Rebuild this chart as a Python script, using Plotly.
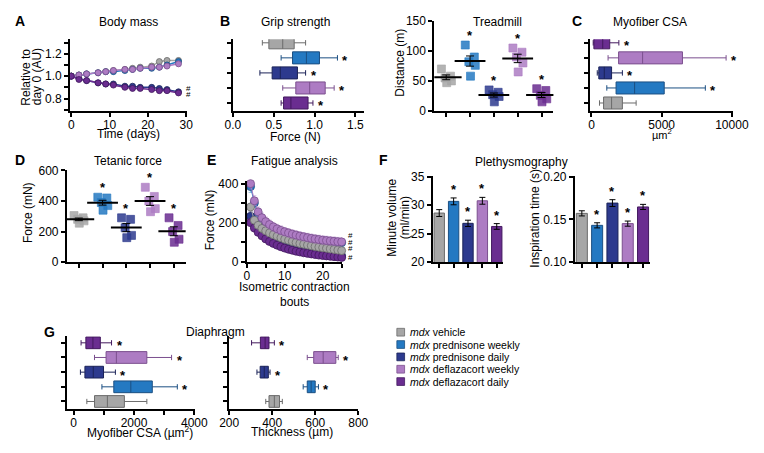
import numpy as np
import plotly.graph_objects as go

# ---- data -------------------------------------------------------------
GROUPS = ['vehicle', 'prednisone weekly', 'prednisone daily',
          'deflazacort weekly', 'deflazacort daily']
FILL = ['#a6a6a6', '#2479c2', '#2d3a8e', '#ad7cc3', '#6a2d90']
EDGE = ['#6b6b6b', '#1b4f82', '#1b2358', '#7b4f8e', '#43195e']
SIG = [False, True, True, True, True]

# A: body mass relative to day 0
DAYS = [0, 2, 4, 7, 9, 11, 14, 16, 18, 21, 23, 25, 28]
BM = [
    [1.00, 1.01, 1.02, 1.03, 1.04, 1.05, 1.06, 1.07, 1.08, 1.09, 1.13, 1.14, 1.14],
    [1.00, 1.01, 1.02, 1.03, 1.04, 1.04, 1.05, 1.06, 1.07, 1.07, 1.08, 1.10, 1.13],
    [1.00, 0.98, 0.96, 0.94, 0.93, 0.93, 0.91, 0.91, 0.90, 0.90, 0.89, 0.88, 0.86],
    [1.00, 1.01, 1.02, 1.03, 1.04, 1.05, 1.06, 1.06, 1.07, 1.08, 1.08, 1.09, 1.11],
    [1.00, 0.97, 0.96, 0.94, 0.93, 0.92, 0.90, 0.89, 0.89, 0.88, 0.87, 0.87, 0.85],
]
BM_ERR = [
    [0, 0.005, 0.008, 0.01, 0.01, 0.012, 0.012, 0.015, 0.015, 0.015, 0.02, 0.02, 0.02],
    [0, 0.005, 0.008, 0.01, 0.01, 0.012, 0.015, 0.015, 0.015, 0.02, 0.02, 0.02, 0.02],
    [0, 0.005, 0.006, 0.008, 0.008, 0.01, 0.01, 0.01, 0.01, 0.01, 0.012, 0.012, 0.012],
    [0, 0.005, 0.008, 0.01, 0.01, 0.012, 0.015, 0.015, 0.018, 0.02, 0.02, 0.02, 0.022],
    [0, 0.005, 0.006, 0.008, 0.008, 0.01, 0.01, 0.012, 0.012, 0.012, 0.012, 0.012, 0.012],
]

# B: grip strength (N), box stats per group
GRIP_LO = [0.36, 0.59, 0.33, 0.61, 0.59]
GRIP_Q1 = [0.44, 0.73, 0.48, 0.77, 0.62]
GRIP_MED = [0.61, 0.90, 0.58, 0.94, 0.71]
GRIP_Q3 = [0.75, 1.06, 0.79, 1.13, 0.92]
GRIP_HI = [0.89, 1.28, 0.89, 1.24, 0.98]

# Treadmill distance (m), individual animals
TREAD = [
    [70, 58, 55, 50, 47],
    [110, 90, 82, 76, 58],
    [35, 31, 27, 24, 15],
    [105, 98, 90, 80, 65],
    [37, 34, 26, 20, 15],
]

# C: myofiber CSA (um^2)
CSA_LO = [570, 1090, 410, 1180, 120]
CSA_Q1 = [860, 1750, 520, 1930, 170]
CSA_MED = [1430, 3070, 910, 3640, 800]
CSA_Q3 = [2200, 5180, 1430, 6480, 1300]
CSA_HI = [3180, 8110, 2200, 9590, 1950]

# D: tetanic force (mN)
TETANIC = [
    [305, 290, 280, 270, 255],
    [425, 420, 390, 370, 340],
    [290, 280, 225, 175, 160],
    [490, 430, 400, 350, 330],
    [290, 240, 200, 150, 130],
]

# E: fatigue, force (mN) per contraction bout
BOUTS = list(range(1, 26))
FAT = [
    [280, 212, 186, 170, 158, 147, 138, 130, 122, 115, 109, 103, 98, 93, 89, 85, 81, 77, 74, 71, 68, 65, 62, 59, 56],
    [385, 300, 245, 215, 197, 183, 172, 162, 154, 147, 141, 136, 131, 127, 123, 119, 116, 113, 110, 107, 105, 103, 101, 99, 97],
    [232, 192, 165, 145, 128, 114, 103, 94, 86, 79, 73, 67, 62, 58, 54, 50, 47, 44, 41, 39, 37, 35, 33, 31, 29],
    [400, 312, 255, 225, 205, 190, 178, 168, 160, 153, 147, 141, 136, 131, 127, 123, 119, 116, 113, 110, 108, 106, 104, 102, 101],
    [200, 172, 150, 132, 116, 103, 93, 84, 76, 69, 63, 58, 53, 49, 45, 42, 39, 36, 33, 31, 29, 27, 25, 23, 21],
]
FAT_ERR = [
    [20, 15, 14, 13, 12, 12, 11, 11, 10, 10, 10, 9, 9, 9, 9, 8, 8, 8, 8, 8, 8, 7, 7, 7, 7],
    [30, 25, 24, 23, 22, 22, 21, 21, 21, 20, 20, 20, 20, 20, 20, 20, 20, 19, 19, 19, 19, 19, 19, 19, 19],
    [25, 22, 20, 19, 18, 17, 16, 15, 14, 13, 12, 12, 11, 11, 10, 10, 10, 9, 9, 9, 9, 8, 8, 8, 8],
    [28, 26, 25, 24, 24, 23, 23, 23, 23, 22, 22, 22, 22, 22, 22, 22, 22, 22, 22, 22, 22, 22, 22, 22, 22],
    [20, 18, 16, 15, 14, 13, 12, 11, 10, 10, 9, 9, 8, 8, 8, 7, 7, 7, 7, 6, 6, 6, 6, 6, 6],
]

# F: plethysmography
MIN_VOL = [28.6, 30.65, 26.8, 30.75, 26.25]
MIN_VOL_ERR = [0.6, 0.6, 0.55, 0.6, 0.5]
INSP = [0.157, 0.143, 0.169, 0.145, 0.1645]
INSP_ERR = [0.003, 0.003, 0.004, 0.003, 0.003]

# G: diaphragm
DCSA_LO = [436, 936, 223, 690, 245]
DCSA_Q1 = [691, 1330, 372, 1074, 404]
DCSA_MED = [1117, 1894, 649, 1415, 638]
DCSA_Q3 = [1681, 2606, 989, 2426, 883]
DCSA_HI = [2426, 3436, 1383, 3245, 1255]

THICK_LO = [370, 544, 329, 563, 304]
THICK_Q1 = [385, 563, 344, 593, 345]
THICK_MED = [410, 581, 363, 637, 367]
THICK_Q3 = [434, 600, 382, 696, 385]
THICK_HI = [447, 615, 390, 707, 410]

# ---- layout helpers ---------------------------------------------------
# the page has an 8px body margin, so the figure is made smaller and
# every position below is given in window pixels, shifted by OFF
OFF = 8
W, H = 764 - 2 * OFF, 453 - 2 * OFF
FONT = 'Liberation Sans, Arial, sans-serif'
TICK = 12
JIT = [-0.2, 0.18, -0.05, 0.22, 0.02]

fig = go.Figure()
lay = {}
notes = []
shapes = []


def fx(x):
    return (x - OFF) / W


def fy(y):
    return 1 - (y - OFF) / H


def add_axes(n, left, right, top, bottom, xr, yr, xt, yt, xtext=None, ytext=None,
             xminor=None, yminor=None):
    s = '' if n == 1 else str(n)
    base = dict(showline=True, linecolor='black', linewidth=2, ticks='outside',
                ticklen=4, tickwidth=2, tickcolor='black', showgrid=False,
                zeroline=False, tickfont=dict(size=TICK, color='black'), fixedrange=True)
    xa = dict(base, domain=[fx(left), fx(right)], range=xr, anchor='y' + s, tickvals=xt,
              ticklabelstandoff=-2)
    ya = dict(base, domain=[fy(bottom), fy(top)], range=yr, anchor='x' + s, tickvals=yt)
    for a, text, minor in [(xa, xtext, xminor), (ya, ytext, yminor)]:
        if text == 'none':
            a['showticklabels'] = False
        elif text is not None:
            a['ticktext'] = text
        if minor is not None:
            a['minor'] = dict(tickvals=minor, ticks='outside', ticklen=4, tickwidth=2,
                              tickcolor='black', showgrid=False)
    lay['xaxis' + s] = xa
    lay['yaxis' + s] = ya
    return 'x' + s, 'y' + s


def note(text, x, y, size=12, bold=False, angle=0, anchor='center'):
    if bold:
        text = '<b>' + text + '</b>'
    notes.append(dict(text=text, x=fx(x), y=fy(y), xref='paper', yref='paper',
                      showarrow=False, textangle=angle, xanchor=anchor, yanchor='middle',
                      font=dict(size=size, color='black')))


def star(xa, ya, x, y, horiz):
    d = dict(text='<b>*</b>', x=x, y=y, xref=xa, yref=ya, showarrow=False,
             font=dict(size=13, color='black'))
    if horiz:
        d.update(xanchor='left', yanchor='middle', xshift=3, yshift=-3)
    else:
        d.update(xanchor='center', yanchor='bottom', yshift=0)
    notes.append(d)


def rgba(hexc, a):
    h = hexc.lstrip('#')
    return 'rgba(%d,%d,%d,%.2f)' % (int(h[0:2], 16), int(h[2:4], 16), int(h[4:6], 16), a)


def boxes(xa, ya, pos, lo, q1, med, q3, hi):
    for i in range(5):
        fig.add_trace(go.Box(y=[pos[i]], lowerfence=[lo[i]], q1=[q1[i]], median=[med[i]],
                             q3=[q3[i]], upperfence=[hi[i]], orientation='h', width=0.8,
                             whiskerwidth=0.45, fillcolor=FILL[i], boxpoints=False,
                             line=dict(color=EDGE[i], width=1), xaxis=xa, yaxis=ya,
                             hoverinfo='skip', showlegend=False))
        if SIG[i]:
            star(xa, ya, hi[i], pos[i], True)


def dots(xa, ya, values):
    for i in range(5):
        v = np.array(values[i], dtype=float)
        fig.add_trace(go.Scatter(x=[i + j for j in JIT[:len(v)]], y=v, mode='markers',
                                 marker=dict(symbol='square', size=8, color=rgba(FILL[i], 0.85),
                                             line=dict(color=rgba(FILL[i], 0.6), width=1)),
                                 xaxis=xa, yaxis=ya, showlegend=False, hoverinfo='skip'))
        sem = v.std(ddof=1) / np.sqrt(len(v))
        fig.add_trace(go.Scatter(x=[i], y=[v.mean()], mode='markers',
                                 marker=dict(symbol='line-ew', size=22, color='black',
                                             line=dict(color='black', width=2)),
                                 error_y=dict(array=[sem], color='black', thickness=1, width=4),
                                 xaxis=xa, yaxis=ya, showlegend=False, hoverinfo='skip'))
        if SIG[i]:
            star(xa, ya, i, v.max(), False)


# ---- A: body mass -----------------------------------------------------
xa, ya = add_axes(1, 62, 183, 33, 107, [-0.3, 30.2], [0.69, 1.33], [0, 10, 20, 30],
                  [0.8, 1.0, 1.2], ytext=['0.8', '1.0', '1.2'], yminor=[0.7, 0.9, 1.1, 1.3])
for i in [0, 1, 2, 3, 4]:
    fig.add_trace(go.Scatter(x=DAYS, y=BM[i], mode='lines+markers',
                             line=dict(color=FILL[i], width=1.5),
                             marker=dict(size=6, color=FILL[i], line=dict(color=EDGE[i], width=0.8)),
                             error_y=dict(array=BM_ERR[i], color=rgba(FILL[i], 0.5), thickness=1, width=2),
                             xaxis=xa, yaxis=ya, showlegend=False, hoverinfo='skip'))
for yv in [0.885, 0.835]:
    notes.append(dict(text='#', x=DAYS[-1], y=yv, xref=xa, yref=ya, showarrow=False,
                      xanchor='left', xshift=6, font=dict(size=8, color='black')))
note('Body mass', 122, 15)
note('A', 10, 14, 14, bold=True)
note('Time (days)', 122, 131)
note('Relative to', 16, 72, angle=-90)
note('day 0 (AU)', 28, 72, angle=-90)

# ---- B: grip strength -------------------------------------------------
xa, ya = add_axes(2, 230.7, 366, 33, 107, [0, 1.6], [-0.52, 4.24], [0, 0.5, 1.0, 1.5],
                  [0, 1, 2, 3, 4], xtext=['0.0', '0.5', '1.0', '1.5'], ytext='none')
boxes(xa, ya, [4, 3, 2, 1, 0], GRIP_LO, GRIP_Q1, GRIP_MED, GRIP_Q3, GRIP_HI)
note('Grip strength', 295, 15)
note('B', 222, 14, 14, bold=True)
note('Force (N)', 296, 134)

# ---- Treadmill --------------------------------------------------------
xa, ya = add_axes(3, 439.3, 562.7, 14, 107, [-0.5, 4.5], [0, 150.5], [0, 1, 2, 3, 4],
                  [0, 50, 100, 150], xtext='none')
dots(xa, ya, TREAD)
note('Treadmill', 505, 15)
note('Distance (m)', 404, 57, angle=-90)

# ---- C: myofiber CSA --------------------------------------------------
xa, ya = add_axes(4, 600.7, 748.3, 33, 107, [-100, 10050], [-0.52, 4.24], [0, 5000, 10000],
                  [0, 1, 2, 3, 4], xtext=['0', '5000', '10000'], ytext='none')
boxes(xa, ya, [0, 1, 2, 3, 4], CSA_LO, CSA_Q1, CSA_MED, CSA_Q3, CSA_HI)
note('Myofiber CSA', 663, 15)
note('C', 587, 14, 14, bold=True)
note('\u00b5m<sup>2</sup>', 675, 131, 11)

# ---- D: tetanic force -------------------------------------------------
xa, ya = add_axes(5, 58.7, 181.7, 168.3, 263.3, [-0.5, 4.5], [0, 602], [0, 1, 2, 3, 4],
                  [0, 200, 400, 600], xtext='none')
dots(xa, ya, TETANIC)
note('Tetanic force', 122, 159)
note('D', 10, 158, 14, bold=True)
note('Force (mN)', 19, 212, angle=-90)

# ---- E: fatigue -------------------------------------------------------
xa, ya = add_axes(6, 245, 343.3, 180, 262.7, [0, 25], [0, 411], [0, 10, 20],
                  [0, 200, 400], xminor=[5, 15, 25], yminor=[100, 300])
for i in [1, 2, 4, 0, 3]:
    fig.add_trace(go.Scatter(x=BOUTS, y=FAT[i], mode='lines+markers',
                             line=dict(color=FILL[i], width=1),
                             marker=dict(size=8, color=FILL[i], line=dict(color=EDGE[i], width=0.8)),
                             error_y=dict(array=FAT_ERR[i], color=rgba(FILL[i], 0.45), thickness=1, width=2),
                             cliponaxis=False, xaxis=xa, yaxis=ya, showlegend=False, hoverinfo='skip'))
for yv in [133, 100, 67, 22]:
    notes.append(dict(text='#', x=BOUTS[-1], y=yv, xref=xa, yref=ya, showarrow=False,
                      xanchor='left', xshift=4, font=dict(size=8, color='black')))
note('Fatigue analysis', 294, 159)
note('E', 208, 158, 14, bold=True)
note('Force (mN)', 207, 220, angle=-90)
note('Isometric contraction', 294, 289)
note('bouts', 294, 304)

# ---- F: plethysmography -----------------------------------------------
for n, left, right, vals, errs, yr, yt, ytext in [
        (7, 437.7, 510.7, MIN_VOL, MIN_VOL_ERR, [20, 35.1], [20, 25, 30, 35], None),
        (8, 585, 662.7, INSP, INSP_ERR, [0.10, 0.2007], [0.10, 0.15, 0.20], ['0.10', '0.15', '0.20'])]:
    xa, ya = add_axes(n, left, right, 174.3, 263.3, [-0.45, 4.45], yr, [0, 1, 2, 3, 4], yt,
                      xtext='none', ytext=ytext)
    for i in range(5):
        fig.add_trace(go.Bar(x=[i], y=[vals[i]], width=0.72, marker=dict(color=FILL[i],
                             line=dict(color=EDGE[i], width=1)),
                             error_y=dict(array=[errs[i]], color='black', thickness=1, width=3),
                             xaxis=xa, yaxis=ya, showlegend=False, hoverinfo='skip'))
        if SIG[i]:
            notes.append(dict(text='<b>*</b>', x=i, y=vals[i] + errs[i], xref=xa, yref=ya,
                              showarrow=False, yanchor='bottom', yshift=-1,
                              font=dict(size=13, color='black')))
note('Plethysmography', 530, 160)
note('F', 387, 158, 14, bold=True)
note('Minute volume', 396, 218, angle=-90)
note('(ml/min)', 409, 218, angle=-90)
note('Inspiration time (s)', 544, 218, angle=-90)

# ---- G: diaphragm -----------------------------------------------------
xa, ya = add_axes(9, 59, 191, 340, 415, [-214, 4010], [-0.51, 4.44], [0, 2000, 4000],
                  [0, 1, 2, 3, 4], ytext='none', xminor=[1000, 3000])
boxes(xa, ya, [0, 1, 2, 3, 4], DCSA_LO, DCSA_Q1, DCSA_MED, DCSA_Q3, DCSA_HI)
xa, ya = add_axes(10, 226.7, 360.7, 340, 415, [199.5, 801], [-0.51, 4.44], [200, 400, 600, 800],
                  [0, 1, 2, 3, 4], ytext='none')
boxes(xa, ya, [0, 1, 2, 3, 4], THICK_LO, THICK_Q1, THICK_MED, THICK_Q3, THICK_HI)
note('Diaphragm', 213, 335)
note('G', 41, 335, 14, bold=True)
note('Myofiber CSA (\u00b5m<sup>2</sup>)', 134, 439)
note('Thickness (\u00b5m)', 292, 439)

# ---- legend -----------------------------------------------------------
for i, name in enumerate(GROUPS):
    yc = 335.7 + i * 12.75
    shapes.append(dict(type='rect', xref='paper', yref='paper',
                       x0=fx(400.5), x1=fx(408.5), y0=fy(yc + 4), y1=fy(yc - 4),
                       fillcolor=FILL[i], line=dict(color=EDGE[i], width=0.8)))
    note('<i>mdx</i> ' + name, 412.5, yc, 10.5, anchor='left')

fig.update_layout(width=W, height=H, margin=dict(l=0, r=0, t=0, b=0),
                  paper_bgcolor='white', plot_bgcolor='white',
                  font=dict(family=FONT, color='black'), showlegend=False,
                  annotations=notes, shapes=shapes, bargap=0.2, **lay)
fig.write_html('out.html')
